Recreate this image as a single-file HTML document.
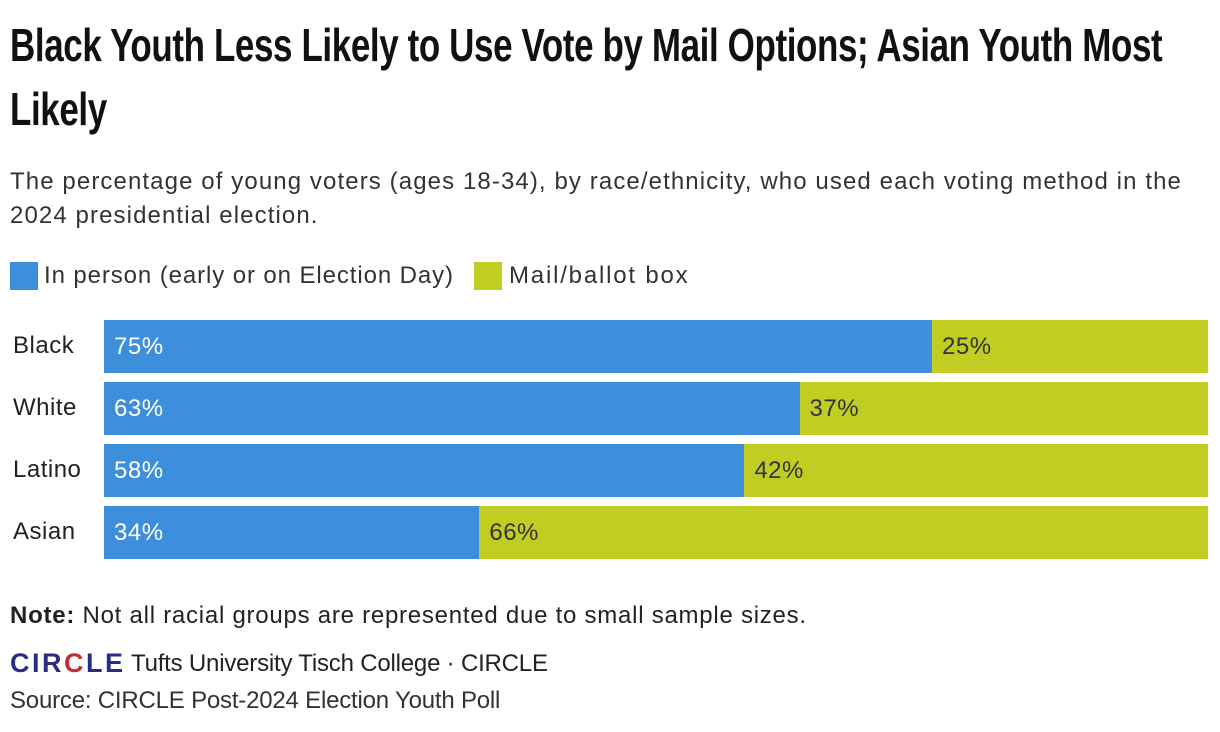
<!DOCTYPE html>
<html><head><meta charset="utf-8"><style>
body{margin:0;width:1220px;height:732px;background:#fff;font-family:"Liberation Sans",sans-serif;color:#222;overflow:hidden;position:relative}
.t{position:absolute;left:10px;white-space:nowrap;font-weight:bold;font-size:46px;transform:scaleX(0.76);transform-origin:left top;color:#111;letter-spacing:-0.5px}
.s{position:absolute;left:10px;font-size:24px;color:#333;white-space:nowrap;letter-spacing:1px}
.lg{position:absolute;top:262px;font-size:24px;color:#333;white-space:nowrap;letter-spacing:1px}
.sw{position:absolute;top:262px;width:28px;height:28px}
.cat{position:absolute;left:13px;font-size:24px;color:#222;letter-spacing:0.5px}
.bar{position:absolute;height:53px}
.lab{position:absolute;font-size:24px;line-height:53px;letter-spacing:0.5px}
</style></head><body>
<div class="t" style="top:18px">Black Youth Less Likely to Use Vote by Mail Options; Asian Youth Most</div>
<div class="t" style="top:82px">Likely</div>
<div class="s" style="top:168px;letter-spacing:1.1px">The percentage of young voters (ages 18-34), by race/ethnicity, who used each voting method in the</div>
<div class="s" style="top:202px;letter-spacing:1.1px">2024 presidential election.</div>
<div class="sw" style="left:10px;background:#3d8fdc"></div>
<div class="lg" style="left:44px;letter-spacing:0.9px">In person (early or on Election Day)</div>
<div class="sw" style="left:474px;background:#c2cd23"></div>
<div class="lg" style="left:509px;letter-spacing:1.8px">Mail/ballot box</div>
<div id="chart"></div>
<div class="s" style="top:602px;color:#222;letter-spacing:0.75px"><b>Note:</b> Not all racial groups are represented due to small sample sizes.</div>
<div style="position:absolute;left:10px;top:648px;font-size:27px;font-weight:bold;color:#2b2d83;letter-spacing:2.5px">CIR<span style="color:#c62a3a">C</span>LE</div>
<div class="s" style="top:650px;left:131px;color:#222;letter-spacing:-0.2px">Tufts University Tisch College · CIRCLE</div>
<div class="s" style="top:687px;letter-spacing:-0.2px">Source: CIRCLE Post-2024 Election Youth Poll</div>
<script>
const categories=["Black","White","Latino","Asian"];
const inPerson=[75,63,58,34];
const mail=[25,37,42,66];
const X0=104,W=1104,Y0=320,STEP=62,H=53;
const xs=v=>v/100*W;
const c=document.getElementById('chart');
categories.forEach((cat,i)=>{
  const y=Y0+i*STEP;
  const l=document.createElement('div');l.className='cat';l.style.top=(y+12)+'px';l.textContent=cat;
  
  
  c.appendChild(l);
  const w1=xs(inPerson[i]),w2=xs(mail[i]);
  const b1=document.createElement('div');b1.className='bar';b1.style.cssText=`left:${X0}px;top:${y}px;width:${w1}px;background:#3d8fdc`;
  
  
  c.appendChild(b1);
  const b2=document.createElement('div');b2.className='bar';b2.style.cssText=`left:${X0+w1}px;top:${y}px;width:${w2}px;background:#c2cd23`;
  
  
  c.appendChild(b2);
  const t1=document.createElement('div');t1.className='lab';t1.style.cssText=`left:${X0+10}px;top:${y}px;color:#fff`;t1.textContent=inPerson[i]+'%';
  
  
  c.appendChild(t1);
  const t2=document.createElement('div');t2.className='lab';t2.style.cssText=`left:${X0+w1+10}px;top:${y}px;color:#333`;t2.textContent=mail[i]+'%';
  
  
  c.appendChild(t2);
});
</script>
</body></html>
